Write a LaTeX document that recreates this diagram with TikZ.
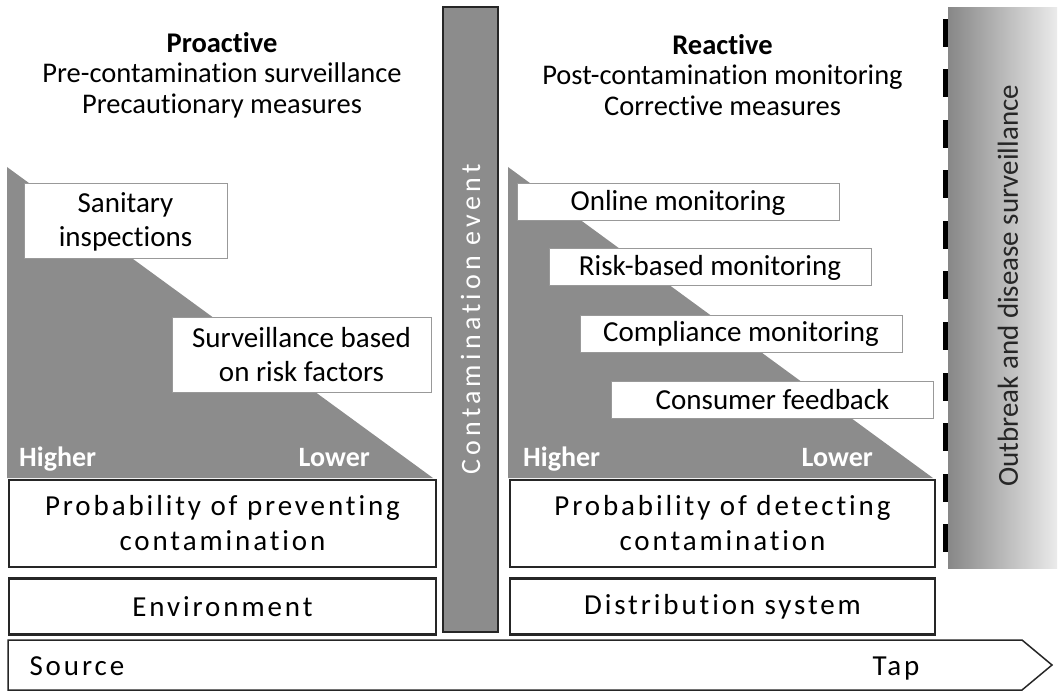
\documentclass[tikz,border=0pt]{standalone}
\usepackage{fontspec}
\setmainfont{Carlito}[Ligatures=CommonOff]
\usetikzlibrary{positioning}

\newcommand{\headfont}{\fontsize{28.5}{30.5}\selectfont}
\newcommand{\itemfont}{\fontsize{29}{34}\selectfont}
\newcommand{\widefont}{\fontsize{29}{35}\selectfont\addfontfeature{LetterSpace=10}}

\begin{document}
\begin{tikzpicture}[
    x=1pt, y=-1pt,
    % Block styles
    wedge/.style={fill=black!45},
    itembox/.style={
      rectangle, draw=black!40, line width=1pt, fill=white,
      inner sep=0pt, minimum height=37pt,
      font=\itemfont, align=center
    },
    probbox/.style={
      rectangle, draw=black!85, line width=2.5pt, fill=white,
      inner sep=0pt, minimum width=427pt, minimum height=87pt,
      font=\widefont, align=center
    },
    sitebox/.style={probbox, minimum height=56pt},
    head/.style={font=\headfont, align=center},
    level/.style={font=\fontsize{28}{30}\selectfont\bfseries, text=white, inner sep=0pt},
    eventbar/.style={
      rectangle, draw=black!85, line width=2pt, fill=black!45,
      inner sep=0pt, minimum width=55pt, minimum height=625pt
    },
  ]
  \useasboundingbox (0,0) rectangle (1059,692);

  % === Proactive side ===
  \node[head] (prohead) at (222,75)
    {\textbf{Proactive}\\Pre-contamination surveillance\\Precautionary measures};
  \fill[wedge] (7,167) -- (433,478) -- (7,478) -- cycle;
  \node[itembox, minimum width=203pt, minimum height=75pt] (sanitary) at (125.5,221.5)
    {Sanitary\\inspections};
  \node[itembox, minimum width=259pt, minimum height=75pt] (riskfac) at (301.5,354.5)
    {Surveillance based\\on risk factors};
  \node[level, anchor=base west] (prohigh) at (19,466) {Higher};
  \node[level, anchor=base east] (prolow) at (370,466) {Lower};
  \node[probbox] (prevent) at (222.5,523.5) {Probability of preventing\\contamination};
  \node[sitebox, below=9pt of prevent] (environ) {Environment};

  % === Contamination event ===
  \node[eventbar] (event) at (470.5,319.5) {};
  \node[rotate=90, text=white, font=\fontsize{28}{30}\selectfont\addfontfeature{LetterSpace=15}]
    (eventlbl) at (event.center) {Contamination event};

  % === Reactive side ===
  \node[head] (rehead) at (722.5,75)
    {\textbf{Reactive}\\Post-contamination monitoring\\Corrective measures};
  \fill[wedge] (508,167) -- (933,478) -- (508,478) -- cycle;
  \node[itembox, minimum width=322pt] (online) at (678,202.5) {Online monitoring};
  \node[itembox, minimum width=322pt] (riskmon) at (710,267.5) {Risk-based monitoring};
  \node[itembox, minimum width=322pt] (comply) at (741,334) {Compliance monitoring};
  \node[itembox, minimum width=322pt] (consumer) at (772.5,400) {Consumer feedback};
  \node[level, anchor=base west] (rehigh) at (523,466) {Higher};
  \node[level, anchor=base east] (relow) at (873,466) {Lower};
  \node[probbox, minimum width=425pt] (detect) at (722.5,523.5) {Probability of detecting\\contamination};
  \node[sitebox, minimum width=425pt, below=9pt of detect] (distrib) {Distribution system};

  % === Outbreak and disease surveillance ===
  \draw[line width=7pt, dash pattern=on 28pt off 22.5pt] (946.5,19) -- (946.5,554);
  \node[rectangle, inner sep=0pt, minimum width=109pt, minimum height=560pt,
    left color=black!47, right color=black!8] (outbreak) at (1002.5,288) {};
  \node[rotate=90, font=\fontsize{29}{31}\selectfont, text=black!85] (outlbl) at (1008,286)
    {Outbreak and disease surveillance};

  % === Source to tap ===
  \draw[line width=1.5pt, draw=black!85] (8,640) -- (1022,640) -- (1052,665)
    -- (1022,690) -- (8,690) -- cycle;
  \node[anchor=base west, font=\widefont] (source) at (26,675) {Source};
  \node[anchor=base, font=\widefont] (tap) at (896,675) {Tap};

\end{tikzpicture}
\end{document}
